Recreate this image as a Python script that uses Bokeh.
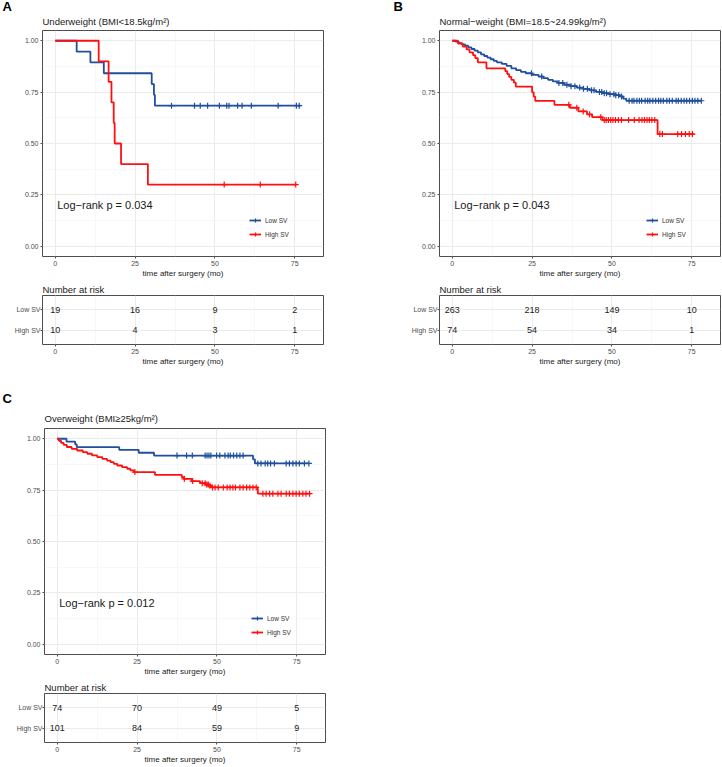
import numpy as np
from bokeh.plotting import figure
from bokeh.models import (ColumnDataSource, Range1d, FactorRange, FixedTicker,
                          NumeralTickFormatter, Legend, LegendItem, Label, LabelSet, Title)
from bokeh.layouts import column, row
from bokeh.embed import file_html
from bokeh.resources import INLINE
from bokeh.core.properties import value

FONT = "Liberation Sans"
BLUE = "#1F4F9E"
RED = "#FF1010"

groups = ["Low SV", "High SV"]
group_colors = [BLUE, RED]
time_ticks = [0, 25, 50, 75]
time_minor = [12.5, 37.5, 62.5]
surv_ticks = [0.0, 0.25, 0.5, 0.75, 1.0]
surv_minor = [0.125, 0.375, 0.625, 0.875]
risk_times = [0, 25, 50, 75]
x_label = "time after surgery (mo)"
risk_title = "Number at risk"

# ---------------- Panel A ----------------
a_letter = "A"
a_title = "Underweight (BMI<18.5kg/m²)"
a_pval = "Log\u2212rank p = 0.034"
a_low_time = [0, 6.7, 11.0, 15.2, 30.2, 30.9, 31.2]
a_low_surv = [1.0, 0.947, 0.895, 0.842, 0.789, 0.737, 0.684]
a_low_end = 76.8
a_low_cens = [36.4, 43.6, 45.4, 47.7, 51.4, 53.7, 54.4, 57.1, 58.5, 61.4, 69.8, 75.5, 76.4]
a_high_time = [0, 13.6, 16.7, 17.6, 18.3, 18.6, 20.6, 29.0]
a_high_surv = [1.0, 0.9, 0.8, 0.7, 0.6, 0.5, 0.4, 0.3]
a_high_end = 75.3
a_high_cens = [52.9, 64.2, 75.3]
a_low_risk = [19, 16, 9, 2]
a_high_risk = [10, 4, 3, 1]

# ---------------- Panel B ----------------
b_letter = "B"
b_title = "Normal\u2212weight (BMI=18.5~24.99kg/m²)"
b_pval = "Log\u2212rank p = 0.043"
b_low_time = [0, 1, 2, 3, 4, 5, 6, 7, 8, 9, 10, 11, 12, 13, 14, 15.5, 17, 18.5, 20, 21.5,
              23, 25, 27, 28.5, 30, 31.5, 33, 35, 37, 39, 41, 43, 45, 47, 49, 51, 52.5, 53.5, 54.5]
b_low_surv = [1.0, 0.996, 0.989, 0.982, 0.976, 0.968, 0.960, 0.952, 0.944, 0.934, 0.926, 0.918,
              0.910, 0.902, 0.895, 0.888, 0.878, 0.866, 0.857, 0.849, 0.842, 0.834, 0.826, 0.818,
              0.810, 0.802, 0.795, 0.786, 0.779, 0.772, 0.766, 0.759, 0.751, 0.745, 0.740, 0.735,
              0.729, 0.718, 0.708]
b_low_end = 78.0
b_low_cens = [24.8, 28.0, 33.4, 34.6, 35.9, 37.2, 38.4, 39.9, 41.1, 42.3, 43.6, 44.4, 46.1, 46.8,
              47.6, 48.3, 49.4, 50.6, 51.2, 52.1, 53.0, 55.4, 56.3, 56.9, 57.8, 58.6, 59.3, 60.4,
              61.2, 61.9, 62.8, 63.7, 64.6, 65.3, 66.1, 67.2, 68.0, 68.9, 70.1, 70.8, 71.7, 72.6,
              73.4, 74.3, 75.2, 76.0, 76.9, 78.0]
b_high_time = [0, 1.8, 3.3, 4.5, 5.4, 6.5, 7.2, 8.0, 10.7, 16.6, 17.2, 17.8, 18.5, 19.3, 19.9,
               25.0, 25.5, 26.0, 32.0, 36.8, 39.5, 42.2, 43.8, 47.0, 64.3]
b_high_surv = [1.0, 0.986, 0.972, 0.958, 0.944, 0.930, 0.916, 0.895, 0.866, 0.852, 0.838, 0.824,
               0.810, 0.796, 0.777, 0.749, 0.728, 0.707, 0.688, 0.674, 0.656, 0.642, 0.628, 0.614,
               0.546]
b_high_end = 75.8
b_high_cens = [36.5, 39.0, 41.0, 43.0, 46.5, 47.6, 48.2, 48.9, 49.6, 50.3, 51.1, 52.0, 53.0, 55.2,
               57.0, 58.5, 59.4, 60.2, 61.0, 61.7, 62.5, 63.4, 65.0, 65.8, 70.6, 71.8, 73.0, 74.2,
               75.2]
b_low_risk = [263, 218, 149, 10]
b_high_risk = [74, 54, 34, 1]

# ---------------- Panel C ----------------
c_letter = "C"
c_title = "Overweight (BMI≥25kg/m²)"
c_pval = "Log\u2212rank p = 0.012"
c_low_time = [0, 2.9, 5.6, 6.1, 19.4, 25.5, 30.3, 61.3, 61.9]
c_low_surv = [1.0, 0.986, 0.973, 0.959, 0.946, 0.932, 0.918, 0.900, 0.880]
c_low_end = 78.8
c_low_cens = [37.5, 40.5, 42.3, 46.3, 46.9, 47.5, 48.1, 49.9, 50.9, 52.5,
              53.5, 54.2, 55.2, 56.2, 57.2, 58.2, 62.8, 63.8, 65.1, 65.9, 66.8, 68.0, 71.7, 72.7,
              73.8, 74.8, 75.8, 77.4, 78.8]
c_high_time = [0, 0.5, 1.2, 2.0, 3.0, 4.5, 6.2, 8.0, 9.4, 10.9, 12.5, 14.1, 15.6, 16.7, 17.7,
               18.8, 20.3, 21.9, 22.9, 24.0, 30.6, 39.0, 39.6, 42.1, 44.7, 46.5, 47.5, 48.3, 62.8]
c_high_surv = [1.0, 0.990, 0.980, 0.970, 0.960, 0.951, 0.943, 0.935, 0.927, 0.919, 0.911, 0.902,
               0.894, 0.886, 0.878, 0.870, 0.862, 0.854, 0.846, 0.838, 0.824, 0.813, 0.805, 0.794,
               0.784, 0.777, 0.771, 0.763, 0.733]
c_high_end = 79.3
c_high_cens = [24.3, 39.8, 42.4, 45.4, 46.3, 46.8, 47.3, 47.8, 48.6, 49.4, 50.4, 52.0, 53.2, 54.1,
               55.0, 55.8, 57.2, 58.2, 59.3, 60.3, 61.3, 62.3, 64.4, 65.4, 66.5, 67.5, 69.1, 70.1,
               71.7, 72.7, 73.8, 74.8, 75.8, 76.9, 77.9, 79.0]
c_low_risk = [74, 70, 49, 5]
c_high_risk = [101, 84, 59, 9]

X_START, X_END = -4, 84
FRAME_W = 281


def surv_at(times, surv, pts):
    idx = np.searchsorted(np.asarray(times), np.asarray(pts), side="right") - 1
    return list(np.asarray(surv)[idx])


def style_title(t, size="9.5px", standoff=3):
    t.align = "left"
    t.text_font = FONT
    t.text_font_size = size
    t.text_font_style = "normal"
    t.text_color = "#1A1A1A"
    t.standoff = standoff


def style_common(p):
    p.outline_line_color = "#4D4D4D"
    p.outline_line_width = 1
    p.background_fill_color = "white"
    p.border_fill_color = "white"
    for ax in p.axis:
        ax.axis_line_color = None
        ax.major_tick_line_color = "#4D4D4D"
        ax.major_tick_out = 2
        ax.major_tick_in = 0
        ax.minor_tick_line_color = None
        ax.major_label_text_font = FONT
        ax.major_label_text_font_size = "7px"
        ax.major_label_text_color = "#4D4D4D"
        ax.major_label_standoff = 0
        ax.axis_label_text_font = FONT
        ax.axis_label_text_font_size = "8px"
        ax.axis_label_text_font_style = "normal"
        ax.axis_label_text_color = "#1A1A1A"
        ax.axis_label_standoff = 0
    p.xaxis.ticker = FixedTicker(ticks=time_ticks, minor_ticks=time_minor)
    p.xaxis.axis_label = x_label
    p.grid.grid_line_color = "#EBEBEB"
    p.grid.grid_line_width = 1
    p.grid.minor_grid_line_color = "#F4F4F4"
    p.grid.minor_grid_line_width = 0.6


def km_panel(letter, title, curves, pval, left, right, top, letter_dx,
             title_standoff, letter_standoff):
    p = figure(frame_width=FRAME_W, frame_height=226, title=None,
               x_range=Range1d(X_START, X_END), y_range=Range1d(-0.05, 1.05),
               output_backend="svg", toolbar_location=None,
               min_border_left=left, min_border_right=right,
               min_border_top=top, min_border_bottom=20)
    style_common(p)
    main_t = Title(text=title)
    style_title(main_t, "9.5px", title_standoff)
    p.add_layout(main_t, "above")
    let_t = Title(text=letter, offset=letter_dx)
    style_title(let_t, "13px", letter_standoff)
    let_t.text_font_style = "bold"
    let_t.text_color = "black"
    p.add_layout(let_t, "above")
    p.yaxis.ticker = FixedTicker(ticks=surv_ticks, minor_ticks=surv_minor)
    p.yaxis.formatter = NumeralTickFormatter(format="0.00")
    items = []
    for name, color, (t, s, end, cens) in zip(groups, group_colors, curves):
        ln = p.step(list(t) + [end], list(s) + [s[-1]], mode="after",
                    line_color=color, line_width=1.8)
        mk = p.scatter(cens, surv_at(t, s, cens), marker="cross", size=6,
                       line_color=color, line_width=1.2)
        items.append(LegendItem(label=name, renderers=[ln, mk]))
    leg = Legend(items=items, location=(207, 17), orientation="vertical",
                 background_fill_alpha=0, border_line_color=None,
                 label_text_font=FONT, label_text_font_size="6.5px",
                 label_text_color="#333333",
                 glyph_width=12, glyph_height=10, label_height=10,
                 spacing=4, padding=0, margin=0, label_standoff=4)
    p.add_layout(leg)
    p.add_layout(Label(x=0.6, y=0.2, text=pval, text_font=FONT,
                       text_font_size="11px", text_baseline="middle",
                       text_align="left", text_color="#1A1A1A"))
    return p


def risk_panel(counts, left, right):
    r = figure(frame_width=FRAME_W, frame_height=49, title=risk_title,
               x_range=Range1d(X_START, X_END),
               y_range=FactorRange(factors=groups[::-1], range_padding=0.2,
                                   range_padding_units="absolute"),
               output_backend="svg", toolbar_location=None,
               min_border_left=left, min_border_right=right,
               min_border_top=12, min_border_bottom=20)
    style_common(r)
    style_title(r.title, "9.5px", 2)
    r.yaxis.major_label_overrides = {g: "" for g in groups}
    for name, cnt in zip(groups, counts):
        src = ColumnDataSource(dict(x=risk_times, y=[name] * len(cnt),
                                    t=[str(c) for c in cnt]))
        r.text(x="x", y="y", text="t", source=src, text_align="center",
               text_baseline="middle", text_font_size="9px",
               text_font=value(FONT), text_color="#1A1A1A")
    lsrc = ColumnDataSource(dict(x=[X_START] * len(groups), y=groups,
                                 text=groups, color=group_colors))
    r.add_layout(LabelSet(x="x", y="y", text="text", source=lsrc,
                          text_color="color", x_offset=-5, text_align="right",
                          text_baseline="middle", text_font=value(FONT),
                          text_font_size="6.5px"))
    return r


km_a = km_panel(a_letter, a_title,
                [(a_low_time, a_low_surv, a_low_end, a_low_cens),
                 (a_high_time, a_high_surv, a_high_end, a_high_cens)],
                a_pval, 42, 37, 30, -40, 7, -7)
rk_a = risk_panel([a_low_risk, a_high_risk], 42, 37)

km_b = km_panel(b_letter, b_title,
                [(b_low_time, b_low_surv, b_low_end, b_low_cens),
                 (b_high_time, b_high_surv, b_high_end, b_high_cens)],
                b_pval, 79, 1, 30, -46, 7, -7)
rk_b = risk_panel([b_low_risk, b_high_risk], 79, 1)

km_c = km_panel(c_letter, c_title,
                [(c_low_time, c_low_surv, c_low_end, c_low_cens),
                 (c_high_time, c_high_surv, c_high_end, c_high_cens)],
                c_pval, 44, 35, 60, -42, 9, 1)
rk_c = risk_panel([c_low_risk, c_high_risk], 44, 35)

layout = column(row(column(km_a, rk_a), column(km_b, rk_b)),
                column(km_c, rk_c))

open("out.html", "w").write(file_html(layout, INLINE))
